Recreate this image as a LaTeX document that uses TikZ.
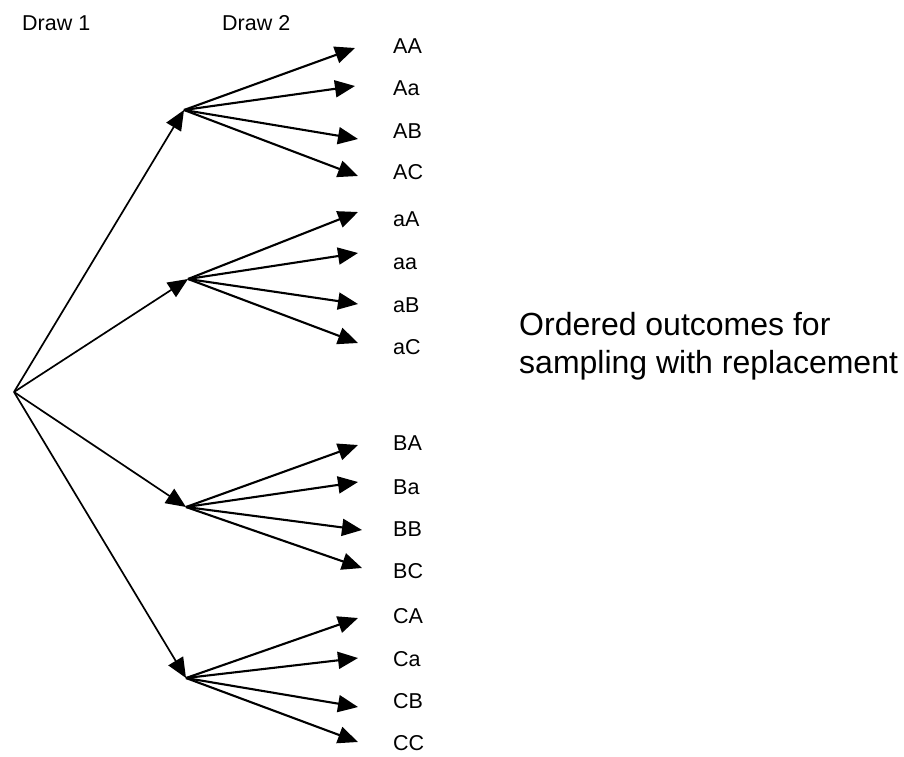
\documentclass[tikz,border=0pt]{standalone}
\usepackage{fontspec}
\setmainfont{Liberation Sans}
\usetikzlibrary{arrows.meta}
\begin{document}
\begin{tikzpicture}[x=1pt,y=-1pt,
  edgeone/.style={line width=1.7pt,-{Triangle[length=20pt,width=17pt]}},
  edgetwo/.style={line width=2.1pt,-{Triangle[length=20pt,width=17pt]}},
  leaf/.style={anchor=base west,inner sep=0pt,font=\fontsize{21.5}{24}\selectfont},
  head/.style={anchor=base west,inner sep=0pt,font=\fontsize{21.5}{24}\selectfont},
  note/.style={anchor=base west,inner sep=0pt,align=left,font=\fontsize{32}{38}\selectfont}]
\useasboundingbox (0,0) rectangle (904,756);

% headings
\node[head] (d1) at (22,30) {Draw 1};
\node[head] (d2) at (222,30) {Draw 2};

% root and branch points
\coordinate (r) at (14,392);
\coordinate (b1) at (184,110);
\coordinate (b2) at (188,279);
\coordinate (b3) at (186,507);
\coordinate (b4) at (186,678);

% leaf arrow tips
\coordinate (tAA) at (355,48);
\coordinate (tAa) at (355,86);
\coordinate (tAB) at (358,139);
\coordinate (tAC) at (358,176);
\coordinate (taA) at (358,212);
\coordinate (taa) at (358,253);
\coordinate (taB) at (358,304);
\coordinate (taC) at (358,343);
\coordinate (tBA) at (358,445);
\coordinate (tBa) at (358,482);
\coordinate (tBB) at (362,530);
\coordinate (tBC) at (362,568);
\coordinate (tCA) at (358,618);
\coordinate (tCa) at (358,658);
\coordinate (tCB) at (358,707);
\coordinate (tCC) at (358,742);

% leaf labels
\node[leaf] (lAA) at (393,53) {AA};
\node[leaf] (lAa) at (393,95) {Aa};
\node[leaf] (lAB) at (393,138) {AB};
\node[leaf] (lAC) at (393,179) {AC};
\node[leaf] (laA) at (393,226) {aA};
\node[leaf] (laa) at (393,269) {aa};
\node[leaf] (laB) at (393,312) {aB};
\node[leaf] (laC) at (393,354) {aC};
\node[leaf] (lBA) at (393,450) {BA};
\node[leaf] (lBa) at (393,494) {Ba};
\node[leaf] (lBB) at (393,536) {BB};
\node[leaf] (lBC) at (393,578) {BC};
\node[leaf] (lCA) at (393,623) {CA};
\node[leaf] (lCa) at (393,666) {Ca};
\node[leaf] (lCB) at (393,708) {CB};
\node[leaf] (lCC) at (393,750) {CC};

% note
\node[note] (n1) at (519,335) {Ordered outcomes for};
\node[note] (n2) at (519,373) {sampling with replacement};

% first draw
\foreach \b in {b1,b2,b3,b4} \draw[edgeone] (r) -- (\b);

% second draw
\foreach \t in {AA,Aa,AB,AC} \draw[edgetwo] (b1) -- (t\t);
\foreach \t in {aA,aa,aB,aC} \draw[edgetwo] (b2) -- (t\t);
\foreach \t in {BA,Ba,BB,BC} \draw[edgetwo] (b3) -- (t\t);
\foreach \t in {CA,Ca,CB,CC} \draw[edgetwo] (b4) -- (t\t);
\end{tikzpicture}
\end{document}
